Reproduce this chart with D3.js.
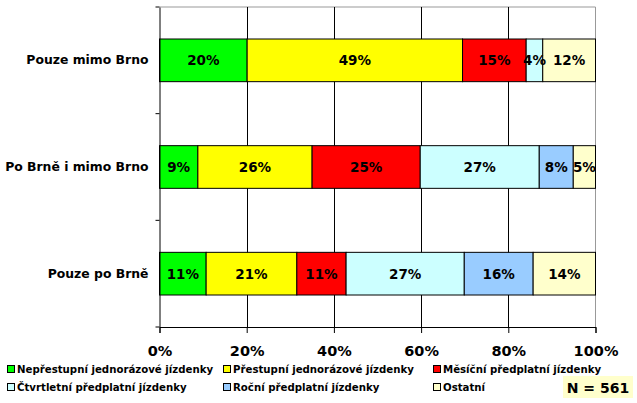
<!DOCTYPE html>
<html>
<head>
<meta charset="utf-8">
<script src="https://cdn.jsdelivr.net/npm/d3@7"></script>
<style>
  body { margin: 0; background: #fff; }
  svg text { font-family: "DejaVu Sans", Verdana, sans-serif; font-weight: bold; }
</style>
</head>
<body>
<div id="chart"></div>
<script>
// categories top to bottom
var categories = ["Pouze mimo Brno", "Po Brně i mimo Brno", "Pouze po Brně"];
var seriesNames = ["Nepřestupní jednorázové jízdenky", "Přestupní jednorázové jízdenky",
  "Měsíční předplatní jízdenky", "Čtvrtletní předplatní jízdenky",
  "Roční předplatní jízdenky", "Ostatní"];
var seriesColors = ["#00ff00", "#ffff00", "#ff0000", "#ccffff", "#99ccff", "#ffffcc"];
// values per series, one per category (percent)
var nepre = [20.1, 8.8, 10.7];
var prest = [49.4, 26.2, 20.8];
var mesic = [14.6, 24.8, 11.3];
var ctvrt = [3.8, 27.3, 27.1];
var rocni = [0, 7.8, 15.8];
var ostat = [12.1, 5.1, 14.3];
var xTicks = [0, 20, 40, 60, 80, 100];
var nLabel = "N = 561";

var series = [nepre, prest, mesic, ctvrt, rocni, ostat];

var W = 637, H = 403;
var svg = d3.select("#chart").append("svg").attr("width", W).attr("height", H);

var x = d3.scaleLinear().domain([0, 100]).range([159.5, 595.5]);
var y = d3.scaleBand().domain(categories).range([7, 327]).paddingInner(0.6).paddingOuter(0.3);
var yOuter = d3.scaleBand().domain(categories).range([7, 327]);

// frame (top and right gray)
svg.append("path")
  .attr("d", "M" + x(0) + ",7H" + x(100) + "V327")
  .attr("fill", "none").attr("stroke", "#999").attr("stroke-width", 1);

// vertical gridlines
svg.selectAll(".grid").data(xTicks.slice(1, -1)).enter().append("line")
  .attr("x1", function(d) { return Math.round(x(d)) + 0.5; })
  .attr("x2", function(d) { return Math.round(x(d)) + 0.5; })
  .attr("y1", 7).attr("y2", 327)
  .attr("stroke", "#000").attr("stroke-width", 1);

// stacked data
var rows = categories.map(function(c, i) {
  var acc = 0;
  return series.map(function(s, j) {
    var seg = { cat: c, k: j, x0: acc, x1: acc + s[i], v: s[i] };
    acc += s[i];
    return seg;
  }).filter(function(d) { return d.v > 0; });
});

var segs = [].concat.apply([], rows);

svg.selectAll(".bar").data(segs).enter().append("rect")
  .attr("x", function(d) { return x(d.x0); })
  .attr("width", function(d) { return x(d.x1) - x(d.x0); })
  .attr("y", function(d) { return y(d.cat); })
  .attr("height", y.bandwidth())
  .attr("fill", function(d) { return seriesColors[d.k]; })
  .attr("stroke", "#000").attr("stroke-width", 1);

svg.selectAll(".lbl").data(segs).enter().append("text")
  .attr("x", function(d) { return (x(d.x0) + x(d.x1)) / 2; })
  .attr("y", function(d) { return y(d.cat) + y.bandwidth() / 2 + 5; })
  .attr("text-anchor", "middle")
  .style("font-size", "13.5px")
  .attr("fill", "#000")
  .text(function(d) { return Math.round(d.v) + "%"; });

// x axis
var xAxis = svg.append("g")
  .attr("transform", "translate(0,327)")
  .call(d3.axisBottom(x).tickValues(xTicks).tickSize(6).tickPadding(13)
    .tickFormat(function(d) { return d + "%"; }));
xAxis.select(".domain").attr("stroke", "#000");
xAxis.selectAll("text").style("font-size", "14.5px").attr("fill", "#000")
  .style("font-family", '"DejaVu Sans", Verdana, sans-serif');

// y axis
var yAxis = svg.append("g")
  .attr("transform", "translate(" + x(0) + ",0)")
  .call(d3.axisLeft(yOuter).tickSize(0).tickPadding(11));
yAxis.select(".domain").attr("stroke", "#000");
yAxis.selectAll("text").style("font-size", "12.4px").attr("fill", "#000")
  .style("font-family", '"DejaVu Sans", Verdana, sans-serif');
// boundary ticks between categories
var bounds = categories.map(function(c) { return yOuter(c); }).concat([327]);
svg.selectAll(".ytick").data(bounds).enter().append("line")
  .attr("x1", x(0) - 4).attr("x2", x(0))
  .attr("y1", function(d) { return d; }).attr("y2", function(d) { return d; })
  .attr("stroke", "#000");

// legend
var legX = [7, 223, 433], legY = [373, 391];
var leg = svg.selectAll(".leg").data(seriesNames).enter().append("g")
  .attr("transform", function(d, i) {
    return "translate(" + legX[i % 3] + "," + legY[Math.floor(i / 3)] + ")";
  });
leg.append("rect")
  .attr("x", 0.5).attr("y", -7.5).attr("width", 7).attr("height", 7)
  .attr("fill", function(d, i) { return seriesColors[i]; })
  .attr("stroke", "#000");
leg.append("text")
  .attr("x", 10).attr("y", 0)
  .style("font-size", "10.2px").attr("fill", "#000")
  .text(function(d) { return d; });

// N box
svg.append("rect").attr("x", 563).attr("y", 376).attr("width", 70).attr("height", 22)
  .attr("fill", "#ffffcc");
svg.append("text").attr("x", 598).attr("y", 393).attr("text-anchor", "middle")
  .style("font-size", "14px").attr("fill", "#000").text(nLabel);
</script>
</body>
</html>
